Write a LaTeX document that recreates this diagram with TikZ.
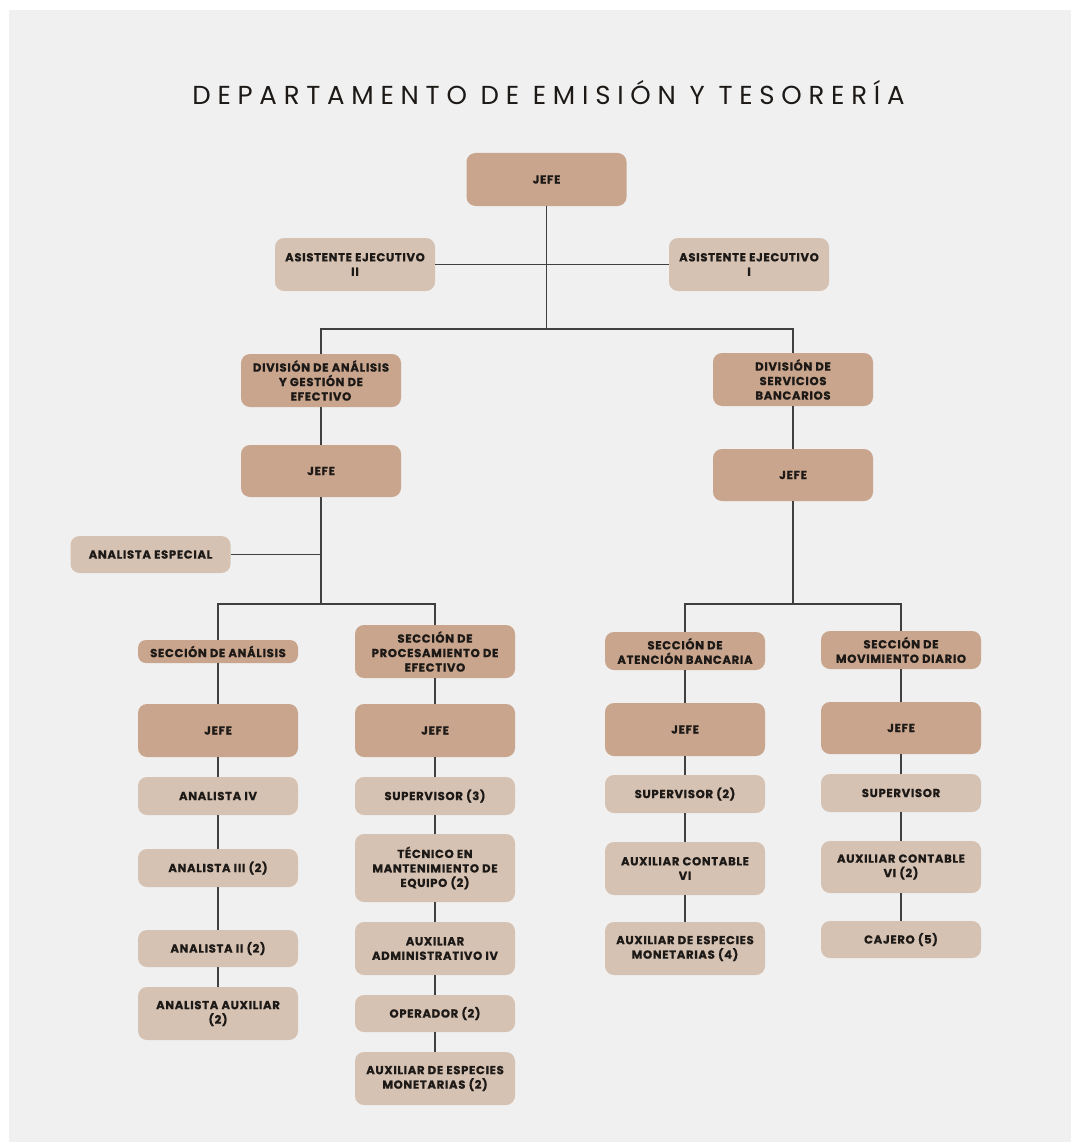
\documentclass[tikz,border=0pt]{standalone}
\usepackage{fontspec}
\setmainfont{Poppins}
\newfontfamily\boxfont{Poppins}[LetterSpace=6, BoldFeatures={FakeBold=0.8}]
\newfontfamily\titlefont{Poppins}[LetterSpace=26]
\usetikzlibrary{calc}

\definecolor{pagebg}{HTML}{F0F0F0}
\definecolor{tandark}{HTML}{C8A58C}
\definecolor{tanlight}{HTML}{D6C2B2}
\definecolor{ink}{HTML}{1C1917}
\definecolor{wire}{HTML}{404040}

\tikzset{
  unit/.style={rounded corners=9pt, minimum width=160pt, inner sep=2pt,
    align=center, text=ink, font=\boxfont\bfseries\fontsize{11.6}{14.5}\selectfont},
  head/.style={unit, fill=tandark},
  staff/.style={unit, fill=tanlight},
  link/.style={draw=wire, line width=1.6pt},
}

\begin{document}
\begin{tikzpicture}[x=1pt, y=-1pt]
% canvas
\useasboundingbox (0,0) rectangle (1071,1142);
\fill[white] (0,0) rectangle (1071,1142);
\fill[pagebg] (9,10) rectangle (1071,1142);

% title
\node[text=ink, font=\titlefont\fontsize{26}{30}\selectfont] (title) at (548.5,93)
  {DEPARTAMENTO DE EMISIÓN Y TESORERÍA};

% top level
\node[head, minimum height=53pt] (jefe0) at (546.5,179.5) {JEFE};
\node[staff, minimum height=53pt] (asis2) at (355,264.5) {ASISTENTE EJECUTIVO\\II};
\node[staff, minimum height=53pt] (asis1) at (749,264.5) {ASISTENTE EJECUTIVO\\I};

% left division
\node[head, minimum height=53pt] (divA) at (321,380.5) {DIVISIÓN DE ANÁLISIS\\Y GESTIÓN DE\\EFECTIVO};
\node[head, minimum height=52pt] (jefeA) at (321,471) {JEFE};
\node[staff, minimum height=37pt] (esp) at (150.5,554.5) {ANALISTA ESPECIAL};

\node[head, minimum height=23pt, rounded corners=8pt] (secAn) at (218,651.5) {SECCIÓN DE ANÁLISIS};
\node[head, minimum height=53pt] (secPro) at (435,651.5) {SECCIÓN DE\\PROCESAMIENTO DE\\EFECTIVO};

\node[head, minimum height=53pt] (jefe1) at (218,730.5) {JEFE};
\node[staff, minimum height=38pt] (an4) at (218,796) {ANALISTA IV};
\node[staff, minimum height=38pt] (an3) at (218,868) {ANALISTA III (2)};
\node[staff, minimum height=37pt] (an2) at (218,948.5) {ANALISTA II (2)};
\node[staff, minimum height=53pt] (anAux) at (218,1013.5) {ANALISTA AUXILIAR\\(2)};

\node[head, minimum height=53pt] (jefe2) at (435,730.5) {JEFE};
\node[staff, minimum height=38pt] (sup3) at (435,796) {SUPERVISOR (3)};
\node[staff, minimum height=68pt] (tec) at (435,868) {TÉCNICO EN\\MANTENIMIENTO DE\\EQUIPO (2)};
\node[staff, minimum height=53pt] (auxAdm) at (435,948.5) {AUXILIAR\\ADMINISTRATIVO IV};
\node[staff, minimum height=37pt] (oper) at (435,1013.5) {OPERADOR (2)};
\node[staff, minimum height=53pt] (esp2) at (435,1078.5) {AUXILIAR DE ESPECIES\\MONETARIAS (2)};

% right division
\node[head, minimum height=53pt] (divB) at (793,379.5) {DIVISIÓN DE\\SERVICIOS\\BANCARIOS};
\node[head, minimum height=52pt] (jefeB) at (793,475) {JEFE};

\node[head, minimum height=38pt] (secAt) at (685,651) {SECCIÓN DE\\ATENCIÓN BANCARIA};
\node[head, minimum height=38pt] (secMov) at (901,650) {SECCIÓN DE\\MOVIMIENTO DIARIO};

\node[head, minimum height=53pt] (jefe3) at (685,729.5) {JEFE};
\node[staff, minimum height=38pt] (sup2) at (685,794) {SUPERVISOR (2)};
\node[staff, minimum height=53pt] (auxC) at (685,868.5) {AUXILIAR CONTABLE\\VI};
\node[staff, minimum height=53pt] (esp4) at (685,948.5) {AUXILIAR DE ESPECIES\\MONETARIAS (4)};

\node[head, minimum height=52pt] (jefe4) at (901,728) {JEFE};
\node[staff, minimum height=38pt] (sup) at (901,793) {SUPERVISOR};
\node[staff, minimum height=52pt] (auxC2) at (901,867) {AUXILIAR CONTABLE\\VI (2)};
\node[staff, minimum height=37pt] (caj) at (901,939.5) {CAJERO (5)};

% bus junctions
\coordinate (busTop) at (546.5,329);
\coordinate (busA) at (321,604);
\coordinate (busB) at (793,604);

% top connectors
\draw[link] (jefe0.south) -- (busTop);
\draw[link] (asis2.east) -- (asis1.west);
\draw[link] (divA.north) |- (busTop) -| (divB.north);

% left division connectors
\draw[link] (divA.south) -- (jefeA.north);
\draw[link] (jefeA.south) -- (busA);
\draw[link] (esp.east) -- (esp.east -| busA);
\draw[link] (secAn.north) |- (busA) -| (secPro.north);

\draw[link] (secAn.south) -- (jefe1.north);
\draw[link] (jefe1.south) -- (an4.north);
\draw[link] (an4.south) -- (an3.north);
\draw[link] (an3.south) -- (an2.north);
\draw[link] (an2.south) -- (anAux.north);

\draw[link] (secPro.south) -- (jefe2.north);
\draw[link] (jefe2.south) -- (sup3.north);
\draw[link] (sup3.south) -- (tec.north);
\draw[link] (tec.south) -- (auxAdm.north);
\draw[link] (auxAdm.south) -- (oper.north);
\draw[link] (oper.south) -- (esp2.north);

% right division connectors
\draw[link] (divB.south) -- (jefeB.north);
\draw[link] (jefeB.south) -- (busB);
\draw[link] (secAt.north) |- (busB) -| (secMov.north);

\draw[link] (secAt.south) -- (jefe3.north);
\draw[link] (jefe3.south) -- (sup2.north);
\draw[link] (sup2.south) -- (auxC.north);
\draw[link] (auxC.south) -- (esp4.north);

\draw[link] (secMov.south) -- (jefe4.north);
\draw[link] (jefe4.south) -- (sup.north);
\draw[link] (sup.south) -- (auxC2.north);
\draw[link] (auxC2.south) -- (caj.north);
\end{tikzpicture}
\end{document}
